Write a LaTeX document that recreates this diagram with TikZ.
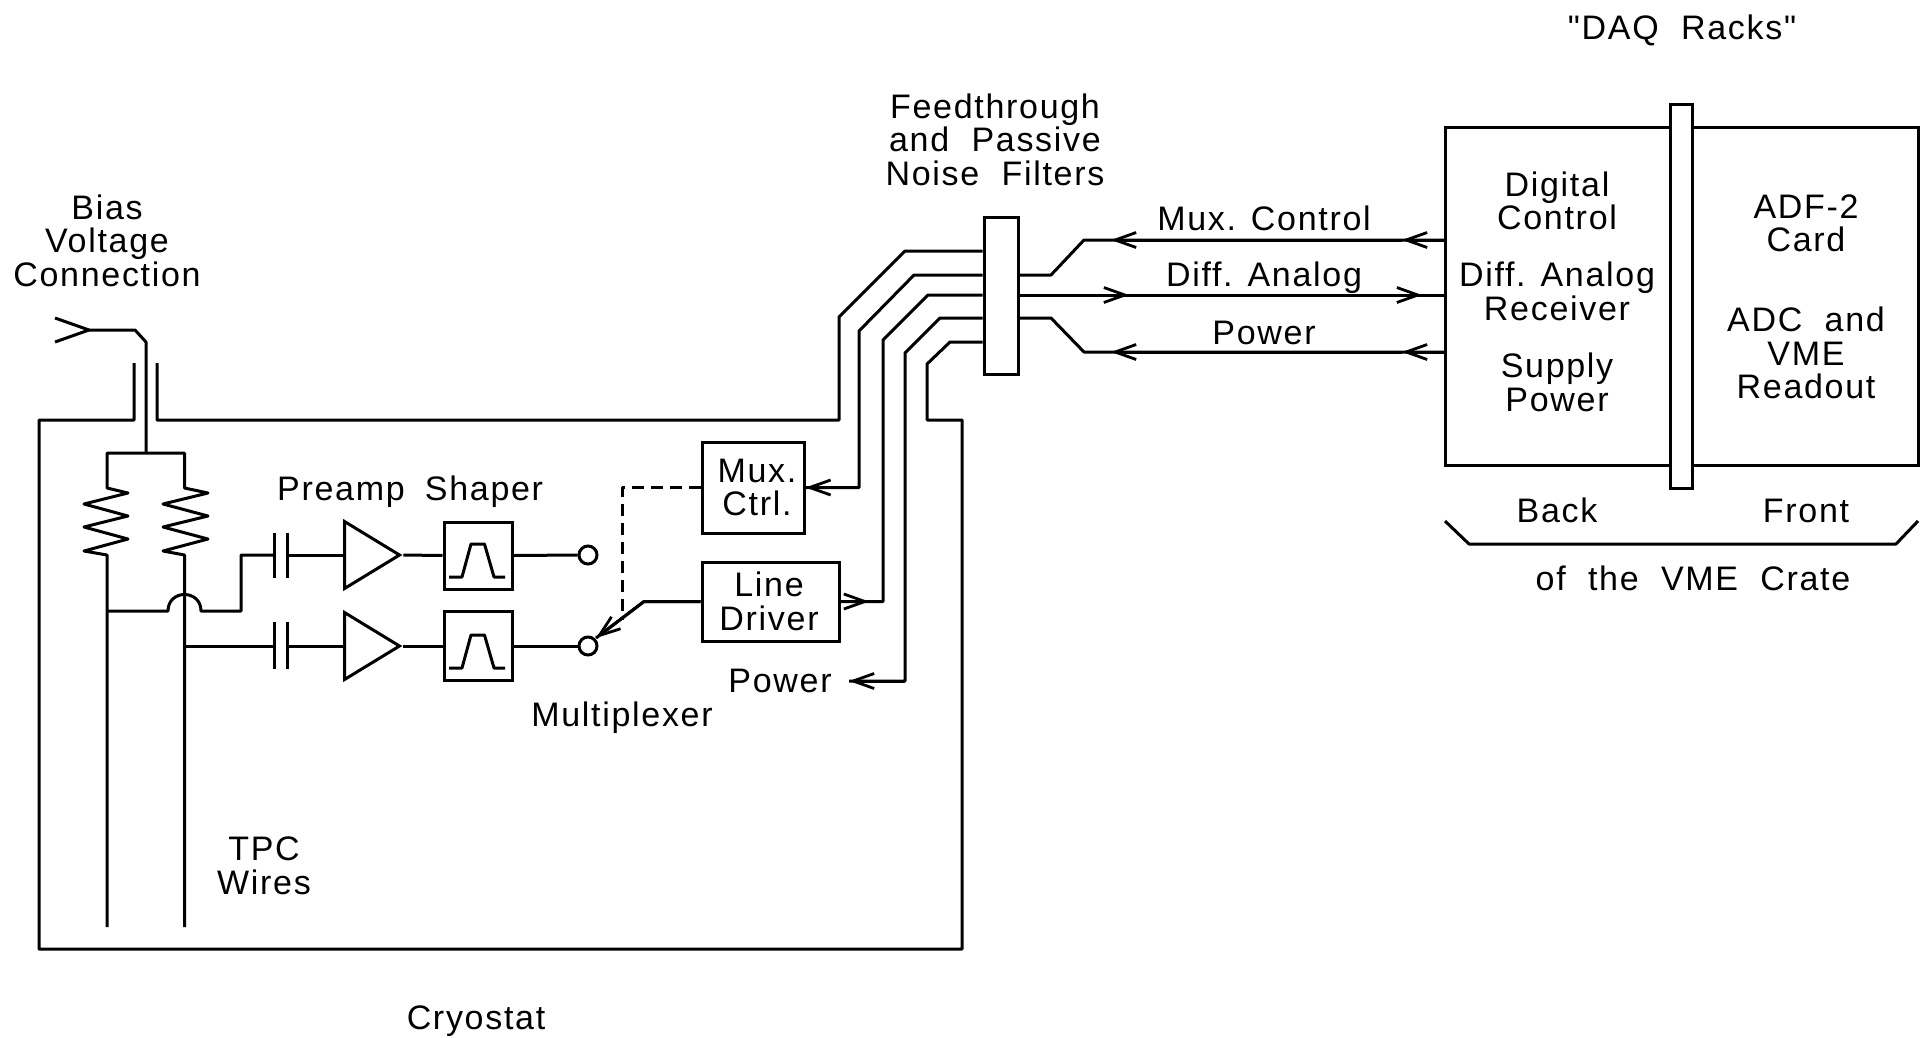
\documentclass[tikz,border=0pt]{standalone}
\usepackage{fontspec}
\setmainfont{Liberation Sans}
\newfontfamily\lblfont[LetterSpace=5]{Liberation Sans}
\usetikzlibrary{arrows.meta,shapes.geometric}
\newcommand\firststrut{\rule{0pt}{25pt}}
\newcommand\laststrut{\rule[-7pt]{0pt}{7pt}}
\tikzset{
  wire/.style={line width=3pt,line join=round,line cap=butt},
  arr/.style={line width=3pt,line join=round,-{Straight Barb[length=21pt,width=15pt,line width=2.8pt]}},
  lbl/.style={inner sep=0,align=center,yshift=-3pt,font=\lblfont\fontsize{34}{33.5}\selectfont,
    execute at begin node=\firststrut,execute at end node=\laststrut},
  boxn/.style={draw,line width=3pt,inner sep=0,fill=white,minimum width=#1},
  ampn/.style={draw,line width=3pt,isosceles triangle,isosceles triangle stretches,inner sep=0,anchor=west,minimum width=67pt,minimum height=55pt},
  sw/.style={draw,line width=3pt,circle,inner sep=0,minimum size=18pt,fill=white},
}
\begin{document}
\begin{tikzpicture}[x=1pt,y=-1pt]
\useasboundingbox (0,0) rectangle (1926,1037);
% nodes: boxes
\node[boxn=34pt,minimum height=157pt] (ft) at (1001,295.5) {};
\node[boxn=102pt,minimum height=91pt] (mux) at (753,487.5) {};
\node[boxn=137pt,minimum height=79pt] (drv) at (770.5,601.5) {};
\node[boxn=68pt,minimum height=67pt] (sh1) at (478,555.5) {};
\node[boxn=68pt,minimum height=69pt] (sh2) at (478,646) {};
\node[boxn=473pt,minimum height=338pt] (crate) at (1681.5,296) {};
\node[boxn=22pt,minimum height=384pt] (slot) at (1681.5,296) {};
\node[ampn] (a1) at (343,555) {};
\node[ampn] (a2) at (343,646) {};
\node[sw] (s1) at (588,555) {};
\node[sw] (s2) at (588,646) {};
% named free points
\coordinate (bias) at (89,330);
\coordinate (c1a) at (274,555); \coordinate (c1b) at (287,555);
\coordinate (c2a) at (274,646); \coordinate (c2b) at (287,646);
\coordinate (swtip) at (596,638);
\coordinate (tm1) at (1402,240); \coordinate (tm2) at (1111,240);
\coordinate (td1) at (1129,295); \coordinate (td2) at (1422,295);
\coordinate (tp1) at (1402,352); \coordinate (tp2) at (1111,352);
\coordinate (powtip) at (849,681);
\coordinate (drvtip) at (869,601.5);
% cryostat and cabling
\draw[wire] (134,363) -- (134,420) -- (39,420) -- (39,949) -- (962,949) -- (962,420) -- (927,420) -- (927,364) -- (950,342) -- (ft.west |- 0,342);
\draw[wire] (157,363) -- (157,420) -- (839,420) -- (839,317) -- (905,251) -- (ft.west |- 0,251);
% bias feed
\draw[wire] (55,318) -- (bias) -- (55,342);
\draw[wire] (bias) -- (135,330) -- (146,342) -- (146,453);
% resistors and wires
\draw[wire] (146,453) -- (107,453) -- (107,488) -- (128,493) -- (84,504) -- (128,516) -- (84,527) -- (128,539) -- (84,551) -- (107,555) -- (107,927);
\draw[wire] (146,453) -- (184.5,453) -- (184.5,488) -- (208,493) -- (163,504) -- (208,516) -- (163,527) -- (208,539) -- (163,551) -- (184.5,555) -- (184.5,927);
\draw[wire] (107,611) -- (168,611) .. controls (168,589) and (201,589) .. (201,611) -- (241,611) -- (241,555) -- (c1a);
\draw[wire] (184.5,646) -- (c2a);
% capacitors
\draw[wire] (274,533) -- (274,578); \draw[wire] (287,533) -- (287,578);
\draw[wire] (274,622) -- (274,669); \draw[wire] (287,622) -- (287,669);
\draw[wire] (c1b) -- (a1.west);
\draw[wire] (c2b) -- (a2.west);
\draw[wire] (a1.east) -- (sh1.west);
\draw[wire] (a2.east) -- (sh2.west);
\draw[wire] (sh1.east) -- (s1.west);
\draw[wire] (sh2.east) -- (s2.west);
% filter glyphs
\draw[wire] (449,577) -- (462,577) -- (471,544) -- (484.5,544) -- (494,577) -- (505,577);
\draw[wire] (449,668) -- (462,668) -- (471,635) -- (484.5,635) -- (494,668) -- (505,668);
% control and signal lines in the cryostat
\draw[wire,dash pattern=on 12pt off 7pt] (mux.west) -- (622,487.5) -- (622,620);
\draw[wire] (drv.west) -- (644,601.5) -- (swtip);
\draw[arr] (drv.west) -- (644,601.5) -- (swtip);
\draw[wire] (ft.west |- 0,275) -- (914,275) -- (859,331) -- (859,487.5) -- (mux.east);
\draw[arr] (859,487.5) -- (mux.east);
\draw[wire] (ft.west |- 0,295) -- (928,295) -- (883,340) -- (883,601.5) -- (drv.east);
\draw[arr] (drv.east) -- (drvtip);
\draw[wire] (ft.west |- 0,318) -- (940,318) -- (905,353) -- (905,681) -- (powtip);
\draw[arr] (905,681) -- (powtip);
% cables outside
\draw[wire] (crate.west |- tm1) -- (1084,240) -- (1051,275) -- (ft.east |- 0,275);
\draw[arr] (crate.west |- tm1) -- (tm1);
\draw[arr] (tm1) -- (tm2);
\draw[wire] (ft.east |- 0,295) -- (crate.west |- td2);
\draw[arr] (ft.east |- 0,295) -- (td1);
\draw[arr] (td1) -- (td2);
\draw[wire] (crate.west |- tp1) -- (1084,352) -- (1051,318) -- (ft.east |- 0,318);
\draw[arr] (crate.west |- tp1) -- (tp1);
\draw[arr] (tp1) -- (tp2);
% bracket
\draw[wire] (1445,521) -- (1469,544) -- (1896,544) -- (1918,521);
% labels
\node[lbl] (tdaq) at (1682,27) {"DAQ\ \ Racks"};
\node[lbl] (tft) at (995,140) {Feedthrough\\and\ \ Passive\\Noise\ \ Filters};
\node[lbl] (tbias) at (107,241) {Bias\\Voltage\\Connection};
\node[lbl] (tpre) at (341,489) {Preamp};
\node[lbl] (tsh) at (484,489) {Shaper};
\node[lbl] (tmux) at (757,488) {Mux.\\Ctrl.};
\node[lbl] (tdrv) at (769,601.5) {Line\\Driver};
\node[lbl] (tpow) at (780,680) {Power};
\node[lbl] (tmpx) at (622,715) {Multiplexer};
\node[lbl] (ttpc) at (264,866) {TPC\\Wires};
\node[lbl] (tcry) at (476,1018) {Cryostat};
\node[lbl] (tmc) at (1264,218) {Mux. Control};
\node[lbl] (tda) at (1264,275) {Diff. Analog};
\node[lbl] (tpw) at (1264,332) {Power};
\node[lbl] (tdig) at (1557,201) {Digital\\Control};
\node[lbl] (trec) at (1557,291.5) {Diff. Analog\\Receiver};
\node[lbl] (tsup) at (1557,382.5) {Supply\\Power};
\node[lbl] (tadf) at (1806,223.5) {ADF-2\\Card};
\node[lbl] (tadc) at (1806,353.5) {ADC\ \ and\\VME\\Readout};
\node[lbl] (tback) at (1557,510) {Back};
\node[lbl] (tfront) at (1806,510) {Front};
\node[lbl] (tvme) at (1693,578) {of\ \ the\ \ VME\ \ Crate};
\end{tikzpicture}
\end{document}
